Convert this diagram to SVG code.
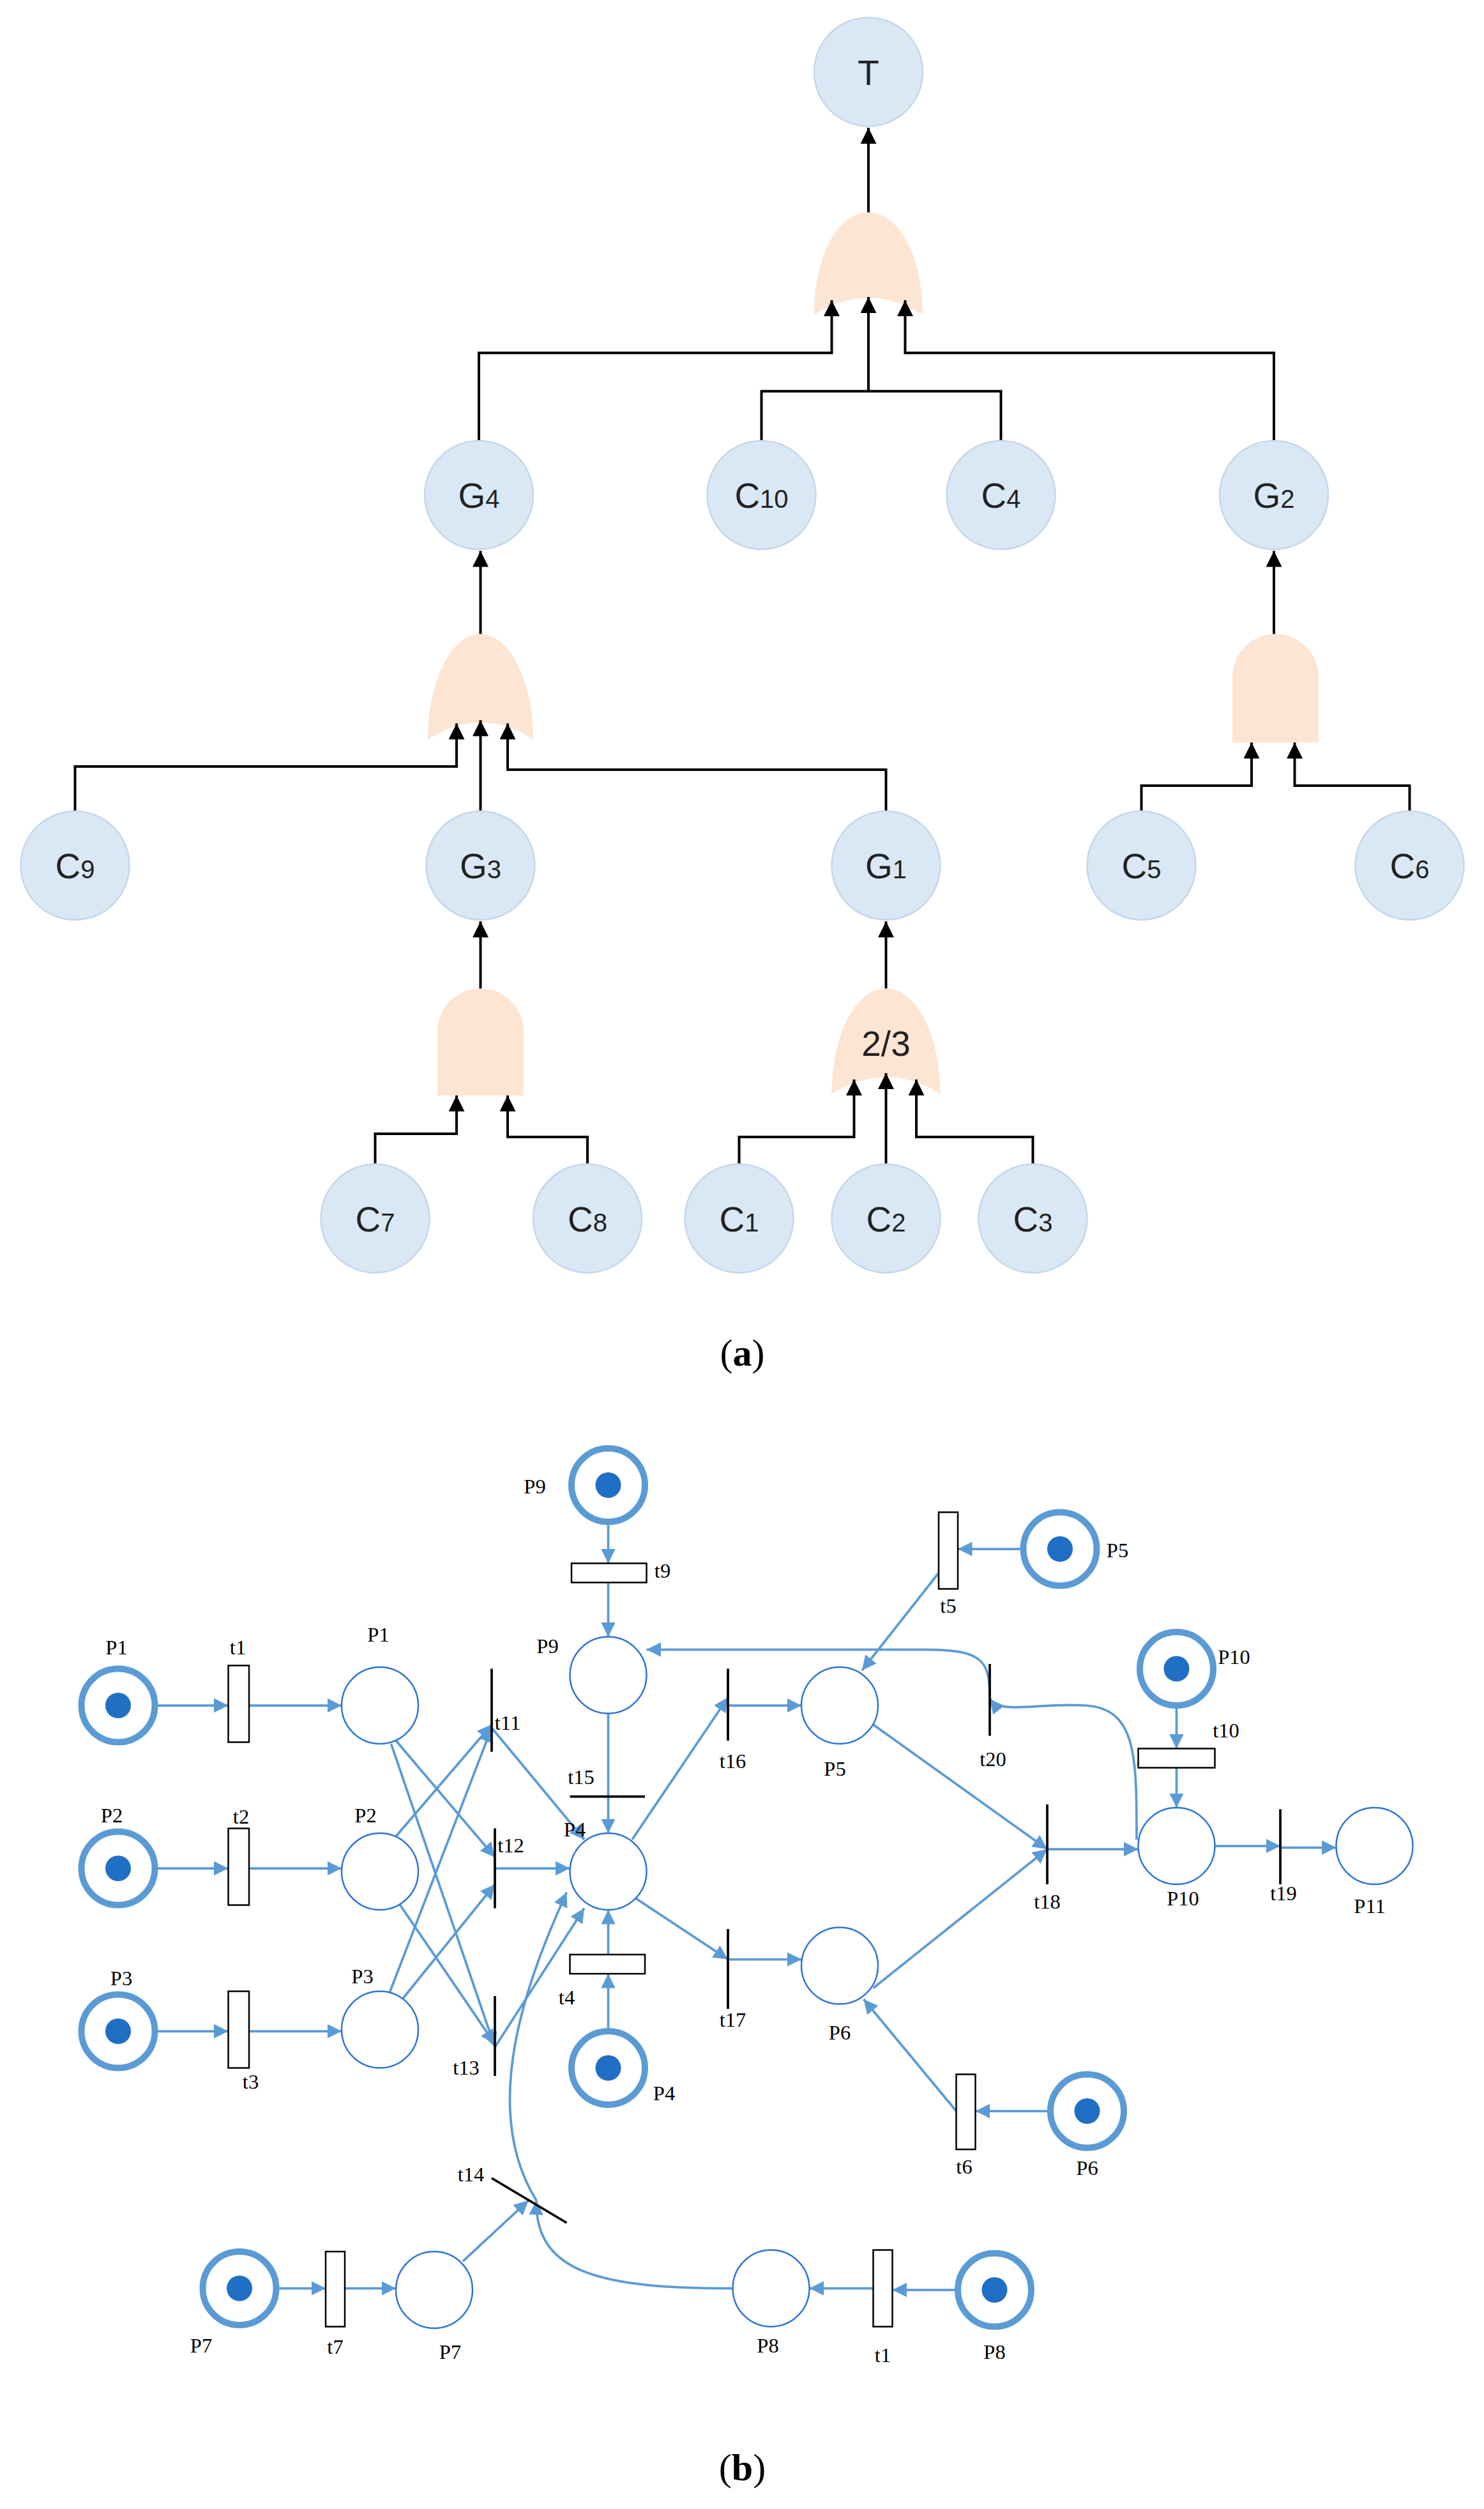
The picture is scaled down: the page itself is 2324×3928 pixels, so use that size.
<svg xmlns="http://www.w3.org/2000/svg" width="2324" height="3928" viewBox="0 0 2324 3928">
<style>
.n{fill:#dae8f5;stroke:#c5d7ea;stroke-width:1}
.g{fill:#fde5d3}
.tl{font-family:"Liberation Sans",Arial,sans-serif;font-size:22px;fill:#222;text-anchor:middle}
.sub{font-size:16px}
.k{fill:none;stroke:#000;stroke-width:1.6;marker-end:url(#ak)}
.k2{fill:none;stroke:#000;stroke-width:1.6}
.b{fill:none;stroke:#5b9bd5;stroke-width:1.5;marker-end:url(#ab)}
.tok{fill:#fff;stroke:#5b9bd5;stroke-width:4}
.dot{fill:#1f6fc5}
.pl{fill:#fff;stroke:#2e75d6;stroke-width:1}
.tr{fill:#fff;stroke:#000;stroke-width:1}
.bar{stroke:#000;stroke-width:1.5}
.pt{font-family:"Liberation Serif","Times New Roman",serif;font-size:13px;fill:#000;text-anchor:middle}
.cap{font-family:"Liberation Serif","Times New Roman",serif;font-size:24px;fill:#000;text-anchor:middle}
</style>
<defs>
<marker id="ak" viewBox="0 0 10 10" refX="10" refY="5" markerWidth="11" markerHeight="10" markerUnits="userSpaceOnUse" orient="auto"><path d="M0,0 L10,5 L0,10 Z" fill="#000"/></marker>
<marker id="ab" viewBox="0 0 10 10" refX="10" refY="5" markerWidth="9" markerHeight="9" markerUnits="userSpaceOnUse" orient="auto"><path d="M0,0 L10,5 L0,10 Z" fill="#5b9bd5"/></marker>
</defs>
<rect width="2324" height="3928" fill="#fff"/>
<g transform="scale(2.5)">
<g id="gates">
<path class="g" d="M510,197 C510,160 525,133 544,133 C563,133 578,160 578,197 Q544,176 510,197 Z"/>
<path class="g" d="M268,463 C268,426 283,397 301,397 C319,397 334,426 334,463 Q301,442 268,463 Z"/>
<path class="g" d="M521,685 C521,648 536,619 555,619 C574,619 589,648 589,685 Q555,664 521,685 Z"/>
<path class="g" d="M772,465 L772,424 A27,27 0 0 1 826,424 L826,465 Z"/>
<path class="g" d="M274,686 L274,646 A27,27 0 0 1 328,646 L328,686 Z"/>
<text class="tl" x="555" y="661">2/3</text>
</g>
<g id="tree-connectors">
<path class="k" d="M544,133 V80"/>
<path class="k" d="M300,277 V221 H521 V188"/>
<path class="k2" d="M477,277 V245 H627 V277"/>
<path class="k" d="M544,245 V186"/>
<path class="k" d="M798,277 V221 H567 V188"/>
<path class="k" d="M301,397 V345"/>
<path class="k" d="M47,508 V480 H286 V453"/>
<path class="k" d="M301,508 V451"/>
<path class="k" d="M555,508 V482 H318 V453"/>
<path class="k" d="M798,397 V345"/>
<path class="k" d="M715,508 V492 H784 V465"/>
<path class="k" d="M883,508 V492 H811 V465"/>
<path class="k" d="M301,619 V577"/>
<path class="k" d="M235,729 V710 H286 V686"/>
<path class="k" d="M368,729 V712 H318 V686"/>
<path class="k" d="M555,619 V577"/>
<path class="k" d="M463,729 V712 H535 V676"/>
<path class="k" d="M555,729 V672"/>
<path class="k" d="M647,729 V712 H574 V676"/>
</g>
<g id="T"><circle class="n" cx="544" cy="45" r="34"/><text class="tl" x="544" y="53">T</text></g>
<g id="G4"><circle class="n" cx="300" cy="310" r="34"/><text class="tl" x="300" y="318">G<tspan class="sub">4</tspan></text></g>
<g id="C10"><circle class="n" cx="477" cy="310" r="34"/><text class="tl" x="477" y="318">C<tspan class="sub">10</tspan></text></g>
<g id="C4"><circle class="n" cx="627" cy="310" r="34"/><text class="tl" x="627" y="318">C<tspan class="sub">4</tspan></text></g>
<g id="G2"><circle class="n" cx="798" cy="310" r="34"/><text class="tl" x="798" y="318">G<tspan class="sub">2</tspan></text></g>
<g id="C9"><circle class="n" cx="47" cy="542" r="34"/><text class="tl" x="47" y="550">C<tspan class="sub">9</tspan></text></g>
<g id="G3"><circle class="n" cx="301" cy="542" r="34"/><text class="tl" x="301" y="550">G<tspan class="sub">3</tspan></text></g>
<g id="G1"><circle class="n" cx="555" cy="542" r="34"/><text class="tl" x="555" y="550">G<tspan class="sub">1</tspan></text></g>
<g id="C5"><circle class="n" cx="715" cy="542" r="34"/><text class="tl" x="715" y="550">C<tspan class="sub">5</tspan></text></g>
<g id="C6"><circle class="n" cx="883" cy="542" r="34"/><text class="tl" x="883" y="550">C<tspan class="sub">6</tspan></text></g>
<g id="C7"><circle class="n" cx="235" cy="763" r="34"/><text class="tl" x="235" y="771">C<tspan class="sub">7</tspan></text></g>
<g id="C8"><circle class="n" cx="368" cy="763" r="34"/><text class="tl" x="368" y="771">C<tspan class="sub">8</tspan></text></g>
<g id="C1"><circle class="n" cx="463" cy="763" r="34"/><text class="tl" x="463" y="771">C<tspan class="sub">1</tspan></text></g>
<g id="C2"><circle class="n" cx="555" cy="763" r="34"/><text class="tl" x="555" y="771">C<tspan class="sub">2</tspan></text></g>
<g id="C3"><circle class="n" cx="647" cy="763" r="34"/><text class="tl" x="647" y="771">C<tspan class="sub">3</tspan></text></g>
<text class="cap" x="465" y="855">(<tspan font-weight="bold">a</tspan>)</text>

<g id="petri-connectors">
<path class="b" d="M98,1068 H143"/><path class="b" d="M156,1068 H214"/>
<path class="b" d="M98,1170 H143"/><path class="b" d="M156,1170 H214"/>
<path class="b" d="M98,1272 H143"/><path class="b" d="M156,1272 H214"/>
<path class="b" d="M248,1090 L310,1163"/>
<path class="b" d="M245,1092 L310,1282"/>
<path class="b" d="M248,1150 L308,1080"/>
<path class="b" d="M250,1192 L310,1280"/>
<path class="b" d="M244,1248 L308,1082"/>
<path class="b" d="M252,1252 L310,1180"/>
<path class="b" d="M310,1170 H357"/>
<path class="b" d="M308,1082 L366,1152"/>
<path class="b" d="M310,1282 L366,1195"/>
<path class="b" d="M381,953 V979"/><path class="b" d="M381,991 V1025"/>
<path class="b" d="M381,1073 V1148"/>
<path class="b" d="M381,1272 V1236"/><path class="b" d="M381,1224 V1196"/>
<path class="b" d="M396,1152 L456,1063"/><path class="b" d="M456,1068 H502"/>
<path class="b" d="M397,1188 L456,1227"/><path class="b" d="M456,1227 H502"/>
<path class="b" d="M641,970 H600"/><path class="b" d="M588,985 L540,1046"/>
<path class="b" d="M657,1322 H611"/><path class="b" d="M599,1322 L541,1252"/>
<path class="b" d="M547,1080 L656,1158"/><path class="b" d="M547,1245 L656,1158"/>
<path class="b" d="M656,1158 H713"/>
<path class="b" d="M737,1068 V1095"/><path class="b" d="M737,1107 V1132"/>
<path class="b" d="M761,1156 H802"/><path class="b" d="M802,1157 H837"/>
<path class="b" d="M712,1152 C712,1100 712,1070 680,1068 C650,1066 628,1074 620,1064"/>
<path class="b" d="M620,1062 C620,1040 615,1033 580,1033 L405,1033"/>
<path class="b" d="M173,1433 H204"/><path class="b" d="M216,1433 H248"/>
<path class="b" d="M290,1416 L331,1378"/>
<path class="b" d="M600,1434 H559"/><path class="b" d="M547,1433 H507"/>
<path class="b" d="M459,1433 C380,1433 335,1425 336,1378"/>
<path class="b" d="M336,1378 C300,1320 330,1240 355,1185"/>
</g>
<g id="transitions">
<rect class="tr" x="143" y="1043" width="13" height="48"/>
<rect class="tr" x="143" y="1145" width="13" height="48"/>
<rect class="tr" x="143" y="1247" width="13" height="48"/>
<rect class="tr" x="358" y="979" width="47" height="12"/>
<rect class="tr" x="357" y="1224" width="47" height="12"/>
<rect class="tr" x="588" y="947" width="12" height="48"/>
<rect class="tr" x="599" y="1299" width="12" height="47"/>
<rect class="tr" x="713" y="1095" width="48" height="12"/>
<rect class="tr" x="204" y="1410" width="12" height="47"/>
<rect class="tr" x="547" y="1409" width="12" height="48"/>
<line class="bar" x1="308" y1="1045" x2="308" y2="1097"/>
<line class="bar" x1="310" y1="1145" x2="310" y2="1195"/>
<line class="bar" x1="310" y1="1250" x2="310" y2="1300"/>
<line class="bar" x1="357" y1="1125" x2="404" y2="1125"/>
<line class="bar" x1="456" y1="1045" x2="456" y2="1090"/>
<line class="bar" x1="456" y1="1208" x2="456" y2="1258"/>
<line class="bar" x1="656" y1="1130" x2="656" y2="1180"/>
<line class="bar" x1="620" y1="1042" x2="620" y2="1087"/>
<line class="bar" x1="802" y1="1133" x2="802" y2="1180"/>
<line class="bar" x1="308" y1="1364" x2="355" y2="1392"/>
</g>
<g id="places">
<g id="P1tok"><circle class="tok" cx="74" cy="1068" r="23"/><circle class="dot" cx="74" cy="1068" r="8"/></g>
<g id="P2tok"><circle class="tok" cx="74" cy="1170" r="23"/><circle class="dot" cx="74" cy="1170" r="8"/></g>
<g id="P3tok"><circle class="tok" cx="74" cy="1272" r="23"/><circle class="dot" cx="74" cy="1272" r="8"/></g>
<g id="P9tok"><circle class="tok" cx="381" cy="930" r="23"/><circle class="dot" cx="381" cy="930" r="8"/></g>
<g id="P4tok"><circle class="tok" cx="381" cy="1295" r="23"/><circle class="dot" cx="381" cy="1295" r="8"/></g>
<g id="P5tok"><circle class="tok" cx="664" cy="970" r="23"/><circle class="dot" cx="664" cy="970" r="8"/></g>
<g id="P6tok"><circle class="tok" cx="681" cy="1322" r="23"/><circle class="dot" cx="681" cy="1322" r="8"/></g>
<g id="P10tok"><circle class="tok" cx="737" cy="1045" r="23"/><circle class="dot" cx="737" cy="1045" r="8"/></g>
<g id="P7tok"><circle class="tok" cx="150" cy="1433" r="23"/><circle class="dot" cx="150" cy="1433" r="8"/></g>
<g id="P8tok"><circle class="tok" cx="623" cy="1434" r="23"/><circle class="dot" cx="623" cy="1434" r="8"/></g>
<circle class="pl" cx="238" cy="1068" r="24"/>
<circle class="pl" cx="238" cy="1172" r="24"/>
<circle class="pl" cx="238" cy="1271" r="24"/>
<circle class="pl" cx="381" cy="1049" r="24"/>
<circle class="pl" cx="381" cy="1172" r="24"/>
<circle class="pl" cx="526" cy="1068" r="24"/>
<circle class="pl" cx="526" cy="1231" r="24"/>
<circle class="pl" cx="737" cy="1156" r="24"/>
<circle class="pl" cx="861" cy="1156" r="24"/>
<circle class="pl" cx="272" cy="1434" r="24"/>
<circle class="pl" cx="483" cy="1433" r="24"/>
</g>
<g id="petri-labels">
<text class="pt" x="73" y="1036">P1</text><text class="pt" x="149" y="1036">t1</text><text class="pt" x="237" y="1028">P1</text>
<text class="pt" x="70" y="1141">P2</text><text class="pt" x="151" y="1142">t2</text><text class="pt" x="229" y="1141">P2</text>
<text class="pt" x="76" y="1243">P3</text><text class="pt" x="157" y="1308">t3</text><text class="pt" x="227" y="1242">P3</text>
<text class="pt" x="335" y="935">P9</text><text class="pt" x="415" y="988">t9</text><text class="pt" x="343" y="1035">P9</text>
<text class="pt" x="318" y="1083">t11</text><text class="pt" x="320" y="1160">t12</text><text class="pt" x="292" y="1299">t13</text>
<text class="pt" x="364" y="1117">t15</text><text class="pt" x="360" y="1150">P4</text>
<text class="pt" x="355" y="1255">t4</text><text class="pt" x="416" y="1315">P4</text>
<text class="pt" x="459" y="1107">t16</text><text class="pt" x="523" y="1112">P5</text>
<text class="pt" x="459" y="1269">t17</text><text class="pt" x="526" y="1277">P6</text>
<text class="pt" x="594" y="1010">t5</text><text class="pt" x="700" y="975">P5</text>
<text class="pt" x="604" y="1361">t6</text><text class="pt" x="681" y="1362">P6</text>
<text class="pt" x="622" y="1106">t20</text><text class="pt" x="656" y="1195">t18</text>
<text class="pt" x="773" y="1042">P10</text><text class="pt" x="768" y="1088">t10</text><text class="pt" x="741" y="1193">P10</text>
<text class="pt" x="804" y="1190">t19</text><text class="pt" x="858" y="1198">P11</text>
<text class="pt" x="295" y="1366">t14</text>
<text class="pt" x="126" y="1473">P7</text><text class="pt" x="210" y="1474">t7</text><text class="pt" x="282" y="1477">P7</text>
<text class="pt" x="481" y="1473">P8</text><text class="pt" x="553" y="1479">t1</text><text class="pt" x="623" y="1477">P8</text>
</g>
<text class="cap" x="465" y="1553">(<tspan font-weight="bold">b</tspan>)</text>
</g>
</svg>
